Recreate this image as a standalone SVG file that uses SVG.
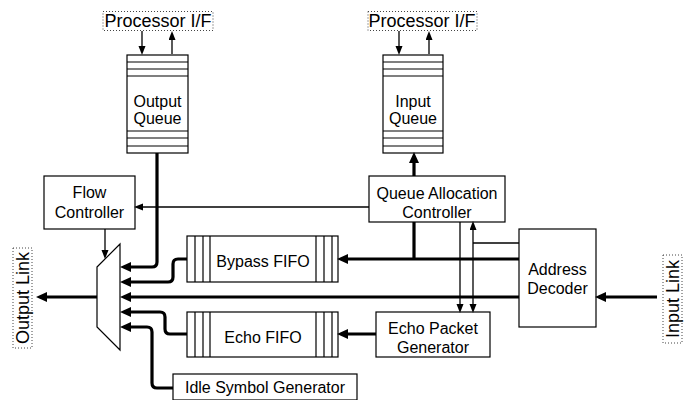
<svg xmlns="http://www.w3.org/2000/svg" width="687" height="400" viewBox="0 0 687 400">
<defs>
<marker id="ak" markerUnits="userSpaceOnUse" markerWidth="12" markerHeight="12" refX="5" refY="5" orient="auto"><path d="M0,0 L11,5 L0,10 z" fill="#000"/></marker>
<marker id="at" markerUnits="userSpaceOnUse" markerWidth="10" markerHeight="8" refX="4" refY="3.5" orient="auto"><path d="M0,0 L9,3.5 L0,7 z" fill="#000"/></marker>
</defs>
<style>
.box{fill:#fff;stroke:#000;stroke-width:1.2}
.ln{stroke:#000;stroke-width:1.2;fill:none}
.thk{stroke:#000;stroke-width:3.2;fill:none;stroke-linejoin:round}
.thn{stroke:#000;stroke-width:1.3;fill:none}
.dot{fill:none;stroke:#444;stroke-width:1;stroke-dasharray:1,2}
text{font-family:"Liberation Sans",Arial,sans-serif;font-size:16px;fill:#000;text-anchor:middle}
.lbl{font-size:18px}
</style>
<rect width="687" height="400" fill="#fff"/>

<g id="proc-if-out">
<rect class="dot" x="103" y="11.5" width="110" height="19"/>
<text class="lbl" x="158" y="27">Processor I/F</text>
</g>
<g id="proc-if-in">
<rect class="dot" x="368" y="11.5" width="109" height="19"/>
<text class="lbl" x="422" y="27">Processor I/F</text>
</g>

<g id="output-queue">
<rect class="box" x="127" y="55" width="61" height="98"/>
<path class="ln" d="M127,62H188M127,69H188M127,76H188M127,131H188M127,138H188M127,146H188"/>
<text x="157.5" y="107">Output</text>
<text x="157.5" y="124">Queue</text>
</g>

<g id="input-queue">
<rect class="box" x="383" y="55" width="60" height="98"/>
<path class="ln" d="M383,62H443M383,69H443M383,76H443M383,131H443M383,138H443M383,146H443"/>
<text x="413" y="107">Input</text>
<text x="413" y="124">Queue</text>
</g>

<g id="flow-controller">
<rect class="box" x="44" y="176" width="91" height="53"/>
<text x="89.5" y="198">Flow</text>
<text x="89.5" y="218">Controller</text>
</g>

<g id="qac">
<rect class="box" x="369" y="176" width="136" height="46"/>
<text x="437" y="199">Queue Allocation</text>
<text x="437" y="218">Controller</text>
</g>

<g id="mux">
<polygon class="box" points="97,267 120,244 120,350 97,327"/>
</g>

<g id="bypass-fifo">
<rect class="box" x="187" y="236" width="151" height="46"/>
<path class="ln" d="M195,236V282M203,236V282M210,236V282M316,236V282M324,236V282M332,236V282"/>
<text x="263" y="267">Bypass FIFO</text>
</g>

<g id="echo-fifo">
<rect class="box" x="187" y="312" width="151" height="45"/>
<path class="ln" d="M195,312V357M203,312V357M210,312V357M316,312V357M324,312V357M332,312V357"/>
<text x="263" y="343">Echo FIFO</text>
</g>

<g id="echo-packet-generator">
<rect class="box" x="376" y="312" width="114" height="45"/>
<text x="433" y="334">Echo Packet</text>
<text x="433" y="353">Generator</text>
</g>

<g id="address-decoder">
<rect class="box" x="519" y="229" width="77" height="98"/>
<text x="557.5" y="275">Address</text>
<text x="557.5" y="294">Decoder</text>
</g>

<g id="idle-symbol-generator">
<rect class="box" x="173" y="374" width="184" height="26"/>
<text x="265" y="393">Idle Symbol Generator</text>
</g>

<g id="output-link">
<rect class="dot" x="13" y="248" width="19" height="100"/>
<text class="lbl" transform="translate(29,298) rotate(-90)">Output Link</text>
</g>
<g id="input-link">
<rect class="dot" x="663" y="255" width="19" height="88"/>
<text class="lbl" transform="translate(679,299) rotate(-90)">Input Link</text>
</g>

<g id="connectors">
<path class="thn" d="M142,31V50" marker-end="url(#at)"/>
<path class="thn" d="M172,54V36" marker-end="url(#at)"/>
<path class="thn" d="M399,31V50" marker-end="url(#at)"/>
<path class="thn" d="M429,54V36" marker-end="url(#at)"/>
<path class="thn" d="M369,207H139" marker-end="url(#at)"/>
<path class="thn" d="M105,229V254" marker-end="url(#at)"/>
<path class="thn" d="M460,222V308" marker-end="url(#at)"/>
<path class="thn" d="M473,243V226" marker-end="url(#at)"/>
<path class="thn" d="M473,243V308" marker-end="url(#at)"/>
<path class="thn" d="M473,243H519"/>

<path class="thk" d="M157,153V262Q157,267 152,267H126" marker-end="url(#ak)"/>
<path class="thk" d="M187,259H178Q173,259 173,264V277Q173,282 168,282H126" marker-end="url(#ak)"/>
<path class="thk" d="M519,297H126" marker-end="url(#ak)"/>
<path class="thk" d="M187,334H170Q165,334 165,329V317Q165,312 160,312H126" marker-end="url(#ak)"/>
<path class="thk" d="M173,388H157Q152,388 152,383V332Q152,327 147,327H126" marker-end="url(#ak)"/>
<path class="thk" d="M97,297H42" marker-end="url(#ak)"/>
<path class="thk" d="M657,297H601" marker-end="url(#ak)"/>
<path class="thk" d="M519,259H343" marker-end="url(#ak)"/>
<path class="thk" d="M414,222V259"/>
<path class="thk" d="M376,334H343" marker-end="url(#ak)"/>
<path class="thk" d="M414,176V158" marker-end="url(#ak)"/>
</g>
</svg>
